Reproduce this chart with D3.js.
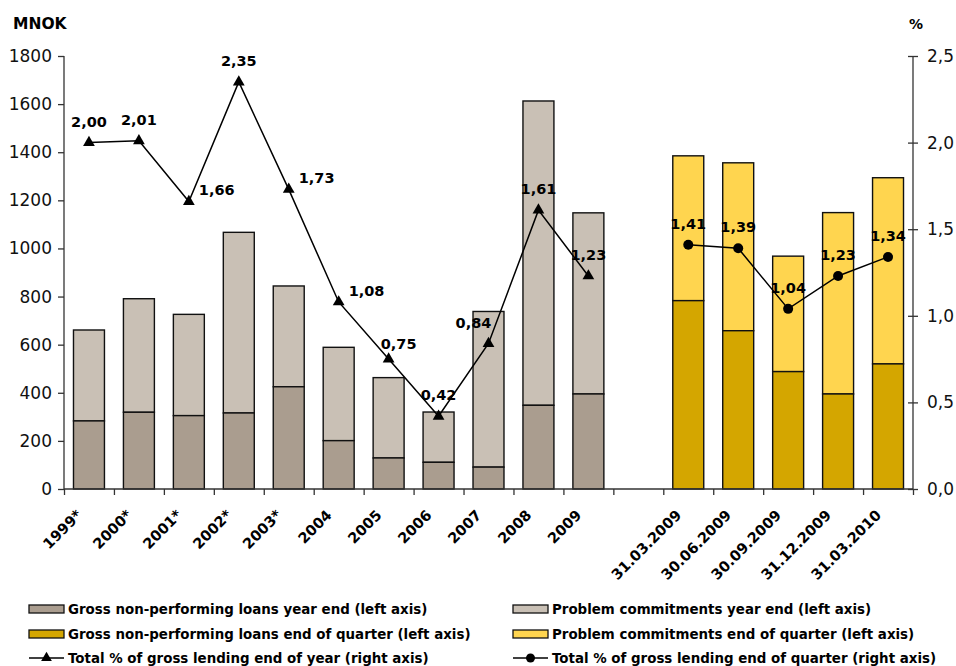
<!DOCTYPE html>
<html>
<head>
<meta charset="utf-8">
<script src="https://cdn.jsdelivr.net/npm/d3@7"></script>
<style>
  html, body { margin: 0; padding: 0; background: #fff; }
  svg { display: block; font-family: "DejaVu Sans", Verdana, sans-serif; }
</style>
</head>
<body>
<svg id="chart" width="956" height="666"></svg>
<script>
// Year-end figures (MNOK) and share of gross lending (%)
const years = ["1999*", "2000*", "2001*", "2002*", "2003*", "2004", "2005", "2006", "2007", "2008", "2009"];
const nplYear = [283, 319, 305, 316, 425, 201, 129, 111, 91, 348, 395];
const problemYear = [378, 472, 421, 751, 419, 388, 334, 209, 647, 1265, 753];
const pctYear = [2.00, 2.01, 1.66, 2.35, 1.73, 1.08, 0.75, 0.42, 0.84, 1.61, 1.23];
const pctYearLabelPlace = ["above", "above", "right", "above", "right", "right", "aboveRight", "above", "aboveLeft", "above", "above"];

// Quarter-end figures
const quarters = ["31.03.2009", "30.06.2009", "30.09.2009", "31.12.2009", "31.03.2010"];
const nplQuarter = [783, 658, 488, 395, 520];
const problemQuarter = [602, 698, 480, 754, 774];
const pctQuarter = [1.41, 1.39, 1.04, 1.23, 1.34];

const leftTicks = [0, 200, 400, 600, 800, 1000, 1200, 1400, 1600, 1800];
const rightTicks = [0, 0.5, 1.0, 1.5, 2.0, 2.5];

const colors = {
  nplYear: "#aa9d8f",
  problemYear: "#c9c0b5",
  nplQuarter: "#d4a600",
  problemQuarter: "#ffd54f"
};

const svg = d3.select("#chart");
const margin = { left: 64, right: 43, top: 56, bottom: 177 };
const W = 956, H = 666;
const x0 = margin.left, x1 = W - margin.right;
const yBottom = H - margin.bottom, yTop = margin.top;

const GAP = "__gap__";
const slots = [...years, GAP, ...quarters];

const x = d3.scaleBand().domain(slots).range([x0, x1]).paddingInner(0).paddingOuter(0);
const yL = d3.scaleLinear().domain([0, 1800]).range([yBottom, yTop]);
const yR = d3.scaleLinear().domain([0, 2.5]).range([yBottom, yTop]);

const barW = x.bandwidth() * 0.62;
const barX = d => x(d) + (x.bandwidth() - barW) / 2;
const cx = d => x(d) + x.bandwidth() / 2;

// Stacked bars
const yearRows = years.map((c, i) => ({ c, a: nplYear[i], b: problemYear[i], ca: colors.nplYear, cb: colors.problemYear }));
const quarterRows = quarters.map((c, i) => ({ c, a: nplQuarter[i], b: problemQuarter[i], ca: colors.nplQuarter, cb: colors.problemQuarter }));
const rows = [...yearRows, ...quarterRows];

const bars = svg.append("g");
rows.forEach(r => {
  bars.append("rect")
    .attr("x", barX(r.c)).attr("width", barW)
    .attr("y", yL(r.a + r.b)).attr("height", yL(r.a) - yL(r.a + r.b))
    .attr("fill", r.cb).attr("stroke", "#111").attr("stroke-width", 1.4);
  bars.append("rect")
    .attr("x", barX(r.c)).attr("width", barW)
    .attr("y", yL(r.a)).attr("height", yL(0) - yL(r.a))
    .attr("fill", r.ca).attr("stroke", "#111").attr("stroke-width", 1.4);
});

// Axes
const axisColor = "#333";
const gL = svg.append("g").attr("transform", `translate(${x0},0)`)
  .call(d3.axisLeft(yL).tickValues(leftTicks).tickSize(6).tickPadding(6).tickFormat(d3.format("d")));
const gR = svg.append("g").attr("transform", `translate(${x1},0)`)
  .call(d3.axisRight(yR).tickValues(rightTicks).tickSize(5).tickPadding(9).tickFormat(d => d3.format(".1f")(d).replace(".", ",")));
gR.selectAll(".tick line").attr("x1", -5);

// Category boundary ticks along the base line
const bounds = d3.scaleLinear().domain([0, slots.length]).range([x0, x1]);
const gB = svg.append("g").attr("transform", `translate(0,${yBottom})`)
  .call(d3.axisBottom(bounds).tickValues(d3.range(0, slots.length + 1)).tickSize(6).tickFormat(""));

// Category labels
const gX = svg.append("g").attr("transform", `translate(0,${yBottom})`)
  .call(d3.axisBottom(x).tickSize(0).tickFormat(d => d === GAP ? "" : d));
gX.select(".domain").remove();
gX.selectAll(".tick text")
  .attr("transform", "translate(-6,27) rotate(-45)")
  .attr("text-anchor", "end")
  .attr("dy", 0).attr("y", 0).attr("x", 0)
  .attr("font-size", 14.5).attr("font-weight", "bold")
  .attr("font-family", "DejaVu Sans, Verdana, sans-serif")
  .attr("fill", "#000");

[gL, gR, gB].forEach(g => {
  g.selectAll(".domain").attr("stroke", axisColor).attr("stroke-width", 1.3);
  g.selectAll(".tick line").attr("stroke", axisColor).attr("stroke-width", 1.3);
  g.selectAll(".tick text").attr("font-size", 17).attr("fill", "#111")
    .attr("font-family", "DejaVu Sans, Verdana, sans-serif");
});
gL.select(".domain").attr("d", `M0,${yTop}V${yBottom}`);
gR.select(".domain").attr("d", `M0,${yTop}V${yBottom}`);
gB.select(".domain").attr("d", `M${x0},0H${x1}`);

// Axis titles
svg.append("text").attr("x", 13).attr("y", 29).text("MNOK")
  .attr("font-size", 15.5).attr("font-weight", "bold");
svg.append("text").attr("x", 909).attr("y", 29).text("%")
  .attr("font-size", 14).attr("font-weight", "bold");

// Percentage lines
const fmt = v => d3.format(".2f")(v).replace(".", ",");
const line = d3.line().x(d => cx(d.c)).y(d => yR(d.v));
const yearPts = years.map((c, i) => ({ c, v: pctYear[i], p: pctYearLabelPlace[i] }));
const quarterPts = quarters.map((c, i) => ({ c, v: pctQuarter[i], p: "above" }));

const tri = d3.symbol().type(d3.symbolTriangle).size(60);
const lines = svg.append("g");
lines.append("path").datum(yearPts).attr("d", line)
  .attr("fill", "none").attr("stroke", "#000").attr("stroke-width", 1.5);
lines.selectAll(".tri").data(yearPts).join("path").attr("class", "tri")
  .attr("d", tri).attr("transform", d => `translate(${cx(d.c)},${yR(d.v)})`).attr("fill", "#000");
lines.append("path").datum(quarterPts).attr("d", line)
  .attr("fill", "none").attr("stroke", "#000").attr("stroke-width", 1.5);
lines.selectAll(".dot").data(quarterPts).join("circle").attr("class", "dot")
  .attr("cx", d => cx(d.c)).attr("cy", d => yR(d.v)).attr("r", 5).attr("fill", "#000");

// Value labels
const place = {
  above: { dx: 0, dy: -16, anchor: "middle" },
  aboveRight: { dx: 10, dy: -10, anchor: "middle" },
  aboveLeft: { dx: -15, dy: -16, anchor: "middle" },
  right: { dx: 10, dy: -6, anchor: "start" }
};
svg.append("g").selectAll("text").data([...yearPts, ...quarterPts]).join("text")
  .attr("x", d => cx(d.c) + place[d.p].dx)
  .attr("y", d => yR(d.v) + place[d.p].dy)
  .attr("text-anchor", d => place[d.p].anchor)
  .attr("font-size", 14.5).attr("font-weight", "bold").attr("fill", "#000")
  .text(d => fmt(d.v));

// Legend
const legendItems = [
  { label: "Gross non-performing loans year end (left axis)", kind: "rect", fill: colors.nplYear, col: 0, row: 0 },
  { label: "Problem commitments year end (left axis)", kind: "rect", fill: colors.problemYear, col: 1, row: 0 },
  { label: "Gross non-performing loans end of quarter (left axis)", kind: "rect", fill: colors.nplQuarter, col: 0, row: 1 },
  { label: "Problem commitments end of quarter (left axis)", kind: "rect", fill: colors.problemQuarter, col: 1, row: 1 },
  { label: "Total % of gross lending end of year (right axis)", kind: "tri", col: 0, row: 2 },
  { label: "Total % of gross lending end of quarter (right axis)", kind: "dot", col: 1, row: 2 }
];
const colX = [29, 513], rowY = [609, 634, 658];
const lg = svg.append("g");
legendItems.forEach(it => {
  const g = lg.append("g").attr("transform", `translate(${colX[it.col]},${rowY[it.row]})`);
  if (it.kind === "rect") {
    g.append("rect").attr("x", 0).attr("y", -4).attr("width", 35).attr("height", 8)
      .attr("fill", it.fill).attr("stroke", "#111").attr("stroke-width", 1.3);
  } else {
    g.append("line").attr("x1", 0).attr("x2", 35).attr("y1", 0).attr("y2", 0)
      .attr("stroke", "#000").attr("stroke-width", 1.5);
    if (it.kind === "tri") {
      g.append("path").attr("d", d3.symbol().type(d3.symbolTriangle).size(50)()).attr("transform", "translate(17.5,0)");
    } else {
      g.append("circle").attr("cx", 17.5).attr("cy", 0).attr("r", 4.5);
    }
  }
  g.append("text").attr("x", 39).attr("y", 5).text(it.label)
    .attr("font-size", 13.4).attr("font-weight", "bold").attr("fill", "#000");
});
</script>
</body>
</html>
